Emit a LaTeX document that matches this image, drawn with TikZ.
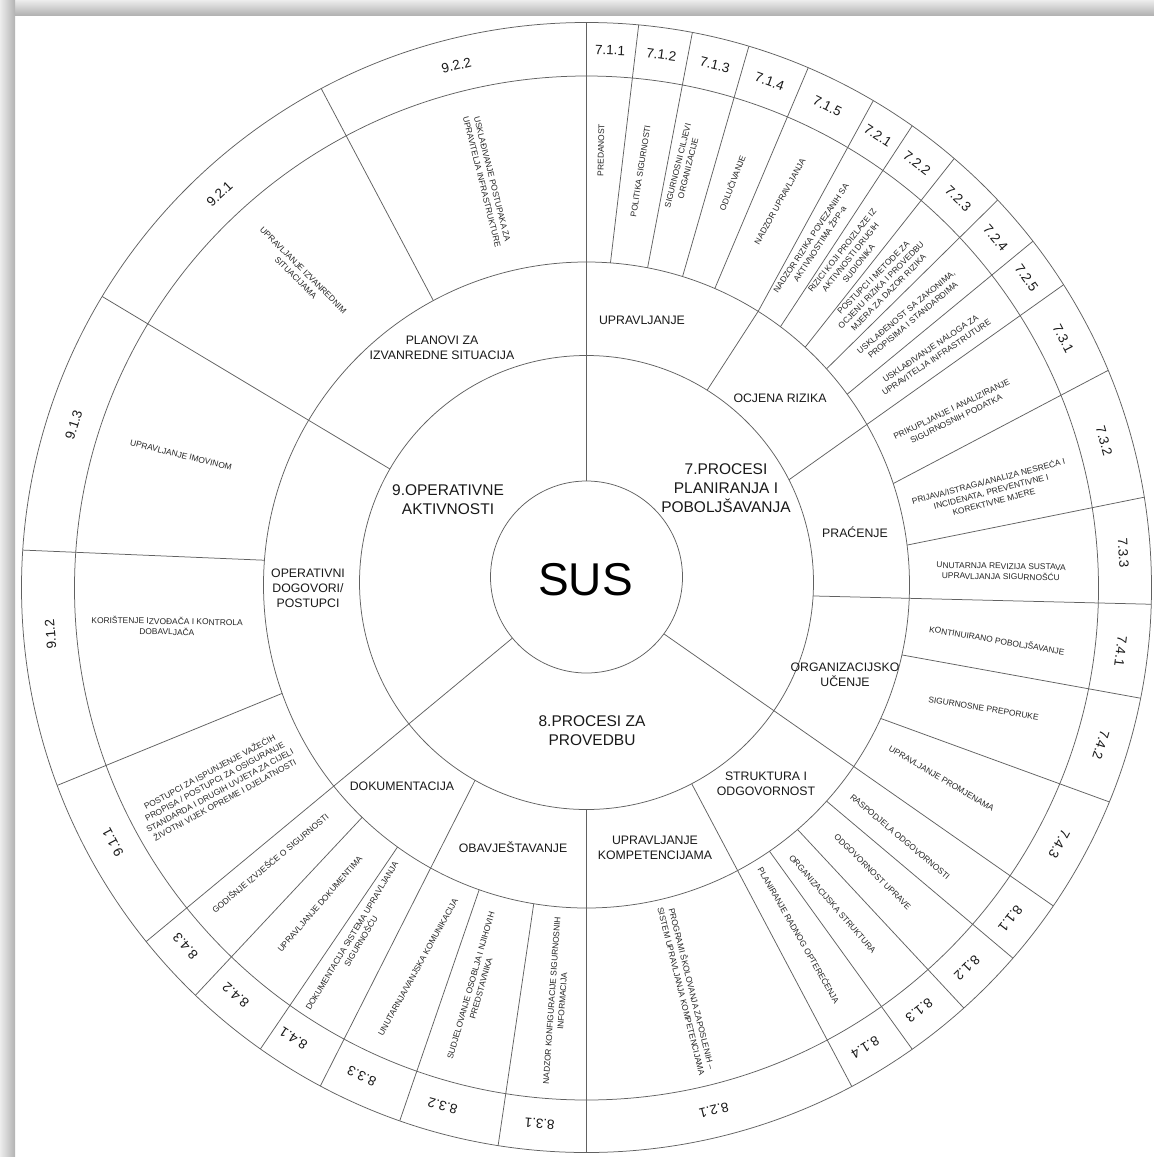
\documentclass[tikz,border=0pt]{standalone}
\usepackage{fontspec}
\setmainfont{Liberation Sans}
\tikzset{
  ln/.style={draw=black!62, line width=0.75pt},
  sus/.style={font=\fontsize{46}{46}\selectfont, text=black, inner sep=0pt},
  cat/.style={font=\fontsize{15.5}{19}\selectfont, align=center, text=black!90, inner sep=0pt},
  sub/.style={font=\fontsize{12.3}{15}\selectfont, align=center, text=black!90, inner sep=0pt},
  dsc/.style={font=\fontsize{8.4}{10.6}\selectfont, align=center, text=black!85, inner sep=0pt},
  num/.style={font=\fontsize{13.5}{13.5}\selectfont, text=black!90, inner sep=0pt},
}
\newcommand\lnSD[2]{\draw[ln] ({586.5+96*cos(#1)},{577-96*sin(#1)}) -- ({586.5+565*cos(#2)},{587.5-565*sin(#2)});}
\newcommand\lnAD[2]{\draw[ln] ({586.5+227*cos(#1)},{582.5-227*sin(#1)}) -- ({586.5+565*cos(#2)},{587.5-565*sin(#2)});}
\newcommand\lnAB[2]{\draw[ln] ({586.5+227*cos(#1)},{582.5-227*sin(#1)}) -- ({586.5+323*cos(#2)},{585-323*sin(#2)});}
\newcommand\lnBD[2]{\draw[ln] ({586.5+323*cos(#1)},{585-323*sin(#1)}) -- ({586.5+565*cos(#2)},{587.5-565*sin(#2)});}
\newcommand\numlab[3]{\node[num, rotate={#2-90}] (#1) at ({586.5+538*cos(#2)},{587.5-538*sin(#2)}) {#3};}
\newcommand\dlab[5]{\node[dsc, rotate=#4] (#1) at (#2,#3) {#5};}
\begin{document}
\begin{tikzpicture}[x=1pt,y=-1pt]
\useasboundingbox (0,0) rectangle (1154,1157);
\fill[white] (0,0) rectangle (1154,1157);
\shade[top color=black!7, bottom color=black!30] (0,0) rectangle (1154,15);
\shade[left color=black!7, right color=black!30] (0,0) rectangle (15,1157);

% circles
\draw[ln] (586.5,577) circle[radius=96];
\draw[ln] (586.5,582.5) circle[radius=227];
\draw[ln] (586.5,585) circle[radius=323];
\draw[ln] (586.5,588) circle[radius=512];
\draw[ln] (586.5,587.5) circle[radius=565];

% main dividers from SUS
\lnSD{90}{90}
\lnSD{-36.3}{-34.3}
\lnSD{219.5}{218.8}

% ring-3 dividers
\lnAB{57.9}{57.9}
\lnAD{26.9}{32.4}
\lnAD{-3.4}{-1.7}
\lnAD{-62.4}{-62}
\lnAD{270}{270}
\lnAD{240.6}{241.9}
\lnAD{150}{149}

% description dividers
\lnBD{85.75}{84.7}
\lnBD{79.1}{79.2}
\lnBD{72.7}{73.3}
\lnBD{66.6}{66.9}
\lnBD{57.9}{59.5}
\lnBD{53.1}{54.8}
\lnBD{47.4}{49.4}
\lnBD{42}{43.3}
\lnBD{36.2}{37.8}
\lnBD{18.3}{22.6}
\lnBD{7.1}{9.2}
\lnBD{-12.5}{-11.3}
\lnBD{-24.4}{-22.3}
\lnBD{-42}{-41}
\lnBD{-49.2}{-48.1}
\lnBD{-55.5}{-54.8}
\lnBD{260.6}{261}
\lnBD{250.6}{250.7}
\lnBD{234.2}{234.75}
\lnBD{226}{226.2}
\lnBD{199.6}{200.5}
\lnBD{175.6}{176.2}
\lnBD{118.3}{118}

% centre
\node[sus] (sus) at (585.5,579.5) {SUS};

% ring 2
\node[cat] (c9) at (448,500) {9.OPERATIVNE\\AKTIVNOSTI};
\node[cat] (c7) at (726,488) {7.PROCESI\\PLANIRANJA I\\POBOLJŠAVANJA};
\node[cat] (c8) at (592,731) {8.PROCESI ZA\\PROVEDBU};

% ring 3
\node[sub] (s71) at (642,320) {UPRAVLJANJE};
\node[sub] (s72) at (780,398) {OCJENA RIZIKA};
\node[sub] (s73) at (855,532) {PRAĆENJE};
\node[sub] (s74) at (845,675) {ORGANIZACIJSKO\\UČENJE};
\node[sub] (s81) at (766,784) {STRUKTURA I\\ODGOVORNOST};
\node[sub] (s82) at (655,848) {UPRAVLJANJE\\KOMPETENCIJAMA};
\node[sub] (s83) at (513,847) {OBAVJEŠTAVANJE};
\node[sub] (s84) at (402,786) {DOKUMENTACIJA};
\node[sub] (s91) at (308,588) {OPERATIVNI\\DOGOVORI/\\POSTUPCI};
\node[sub] (s92) at (442,348) {PLANOVI ZA\\IZVANREDNE SITUACIJA};

% descriptions
\dlab{d711}{601}{150}{89}{PREDANOST}
\dlab{d712}{640.5}{171}{81}{POLITIKA SIGURNOSTI}
\dlab{d713}{683}{167}{76}{SIGURNOSNI CILJEVI\\ORGANIZACIJE}
\dlab{d714}{732}{183}{69}{ODLUČIVANJE}
\dlab{d715}{780}{201.5}{61}{NADZOR UPRAVLJANJA}
\dlab{d721}{815.5}{241}{56.5}{NADZOR RIZIKA POVEZANIH SA\\AKTIVNOSTIMA ŽPP-a}
\dlab{d722}{850.5}{257}{51.5}{RIZICI KOJI PROIZLAZE IZ\\AKTIVNOSTI DRUGIH\\SUDIONIKA}
\dlab{d723}{881}{285}{45.5}{POSTUPCI I METODE ZA\\OCJENU RIZIKA I PROVEDBU\\MJERA ZA DAZOR RIZIKA}
\dlab{d724}{909.5}{316}{40}{USKLAĐENOST SA ZAKONIMA,\\PROPISIMA I STANDARDIMA}
\dlab{d725}{933.5}{353}{34}{USKLAĐIVANJE NALOGA ZA\\UPRAVITELJA INFRASTRUTURE}
\dlab{d731}{954}{414}{26}{PRIKUPLJANJE I ANALIZIRANJE\\SIGURNOSNIH PODATKA}
\dlab{d732}{991}{491}{14.7}{PRIJAVA/ISTRAGA/ANALIZA NESREĆA I\\INCIDENATA, PREVENTIVNE I\\KOREKTIVNE MJERE}
\dlab{d733}{1001}{571.5}{-1}{UNUTARNJA REVIZIJA SUSTAVA\\UPRAVLJANJA SIGURNOŠĆU}
\dlab{d741}{997}{640}{-9.7}{KONTINUIRANO POBOLJŠAVANJE}
\dlab{d742}{983.5}{708.5}{-9.4}{SIGURNOSNE PREPORUKE}
\dlab{d743}{941.5}{778.5}{-30.5}{UPRAVLJANJE PROMJENAMA}
\dlab{d811}{900}{837}{-40.3}{RASPODJELA ODGOVORNOSTI}
\dlab{d812}{872.5}{871.7}{-44.4}{ODGOVORNOST UPRAVE}
\dlab{d813}{832.5}{904}{-49}{ORGANIZACIJSKA STRUKTURA}
\dlab{d814}{799}{935}{-60.2}{PLANIRANJE RADNOG OPTEREĆENJA}
\dlab{d821}{687}{990}{-76}{PROGRAMI ŠKOLOVANJA ZAPOSLENIH –\\SISTEM UPRAVLJANJA KOMPETENCIJAMA}
\dlab{d831}{557}{1001}{86}{NADZOR KONFIGURACIJE SIGURNOSNIH\\INFORMACIJA}
\dlab{d832}{476}{987}{74}{SUDJELOVANJE OSOBLJA I NJIHOVIH\\PREDSTAVNIKA}
\dlab{d833}{418}{967}{61}{UNUTARNJA/VANJSKA KOMUNIKACIJA}
\dlab{d841}{356.5}{938.7}{59}{DOKUMENTACIJA SISTEMA UPRAVLJANJA\\SIGURNOŠĆU}
\dlab{d842}{320}{904}{49}{UPRAVLJANJE DOKUMENTIMA}
\dlab{d843}{270}{863}{40}{GODIŠNJE IZVJEŠĆE O SIGURNOSTI}
\dlab{d911}{217}{785.5}{28.5}{POSTUPCI ZA ISPUNJENJE VAŽEĆIH\\PROPISA / POSTUPCI ZA OSIGURANJE\\STANDARDA I DRUGIH UVJETA ZA CIJELI\\ŽIVOTNI VIJEK OPREME I DJELATNOSTI}
\dlab{d912}{167}{626}{-1}{KORIŠTENJE IZVOĐAČA I KONTROLA\\DOBAVLJAČA}
\dlab{d913}{181}{455}{-14}{UPRAVLJANJE IMOVINOM}
\dlab{d921}{299.5}{274}{-45}{UPRAVLJANJE IZVANREDNIM\\SITUACIJAMA}
\dlab{d922}{487}{180.5}{-76}{USKLAĐIVANJE POSTUPAKA ZA\\UPRAVITELJA INFRASTRUKTURE}

% numbers
\numlab{n711}{87.5}{7.1.1}
\numlab{n712}{82}{7.1.2}
\numlab{n713}{76.2}{7.1.3}
\numlab{n714}{70.1}{7.1.4}
\numlab{n715}{63.4}{7.1.5}
\numlab{n721}{57.2}{7.2.1}
\numlab{n722}{52.1}{7.2.2}
\numlab{n723}{46.3}{7.2.3}
\numlab{n724}{40.5}{7.2.4}
\numlab{n725}{35.1}{7.2.5}
\numlab{n731}{27.6}{7.3.1}
\numlab{n732}{15.8}{7.3.2}
\numlab{n733}{3.7}{7.3.3}
\numlab{n741}{-6.8}{7.4.1}
\numlab{n742}{-17}{7.4.2}
\numlab{n743}{-28.5}{7.4.3}
\numlab{n811}{-38}{8.1.1}
\numlab{n812}{-45}{8.1.2}
\numlab{n813}{-51.8}{8.1.3}
\numlab{n814}{-58.8}{8.1.4}
\numlab{n821}{-76.3}{8.2.1}
\numlab{n831}{265}{8.3.1}
\numlab{n832}{254.5}{8.3.2}
\numlab{n833}{245.3}{8.3.3}
\numlab{n841}{237}{8.4.1}
\numlab{n842}{229.3}{8.4.2}
\numlab{n843}{221.8}{8.4.3}
\numlab{n911}{208.3}{9.1.1}
\numlab{n912}{185}{9.1.2}
\numlab{n913}{162.4}{9.1.3}
\numlab{n921}{133}{9.2.1}
\numlab{n922}{104}{9.2.2}
\end{tikzpicture}
\end{document}
